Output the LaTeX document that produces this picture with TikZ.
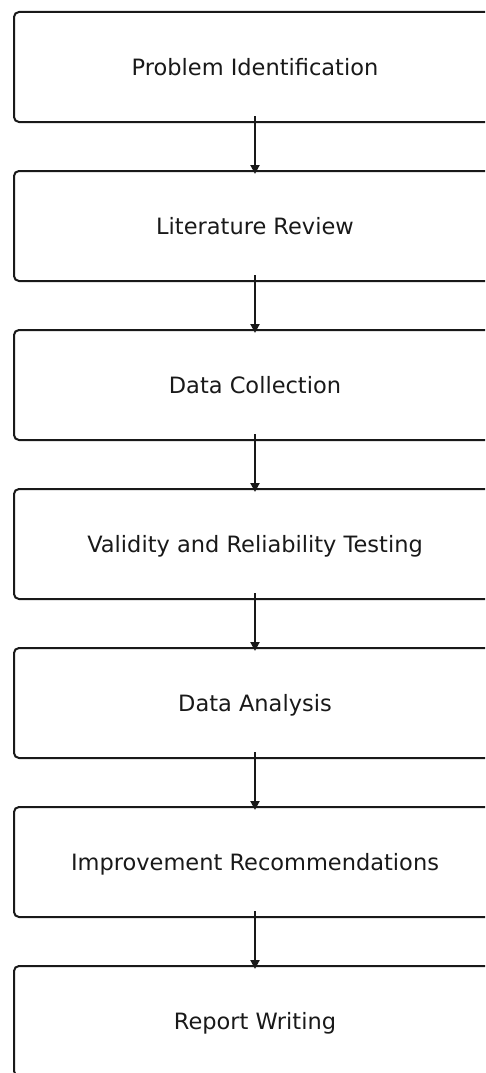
\documentclass[tikz,border=0pt]{standalone}
\usepackage{fontspec}
\setmainfont{DejaVu Sans}
\usetikzlibrary{arrows.meta}
\begin{document}
\begin{tikzpicture}[x=1pt,y=1pt,
  stagebox/.style={draw=black!90, line width=2pt, rounded corners=5pt,
    minimum width=482pt, minimum height=110pt, inner sep=0pt,
    text depth=0pt,
    font=\fontsize{22.5}{26}\selectfont, text=black!90},
  flow/.style={line width=2pt, draw=black!90,
    -{Triangle[length=9pt,width=9pt]}, shorten <=-7pt, shorten >=-4pt}]
\useasboundingbox (0,0) rectangle (485,-1073);
\begin{scope}
\clip (0,0) rectangle (485,-1073);
\node[stagebox] (s1) at (255,-67)  {Problem Identification};
\node[stagebox] (s2) at (255,-226) {Literature Review};
\node[stagebox] (s3) at (255,-385) {Data Collection};
\node[stagebox] (s4) at (255,-544) {Validity and Reliability Testing};
\node[stagebox] (s5) at (255,-703) {Data Analysis};
\node[stagebox] (s6) at (255,-862) {Improvement Recommendations};
\node[stagebox] (s7) at (255,-1021) {Report Writing};
\foreach \a/\b in {s1/s2,s2/s3,s3/s4,s4/s5,s5/s6,s6/s7}
  \draw[flow] (\a.south) -- (\b.north);
\end{scope}
\end{tikzpicture}
\end{document}
